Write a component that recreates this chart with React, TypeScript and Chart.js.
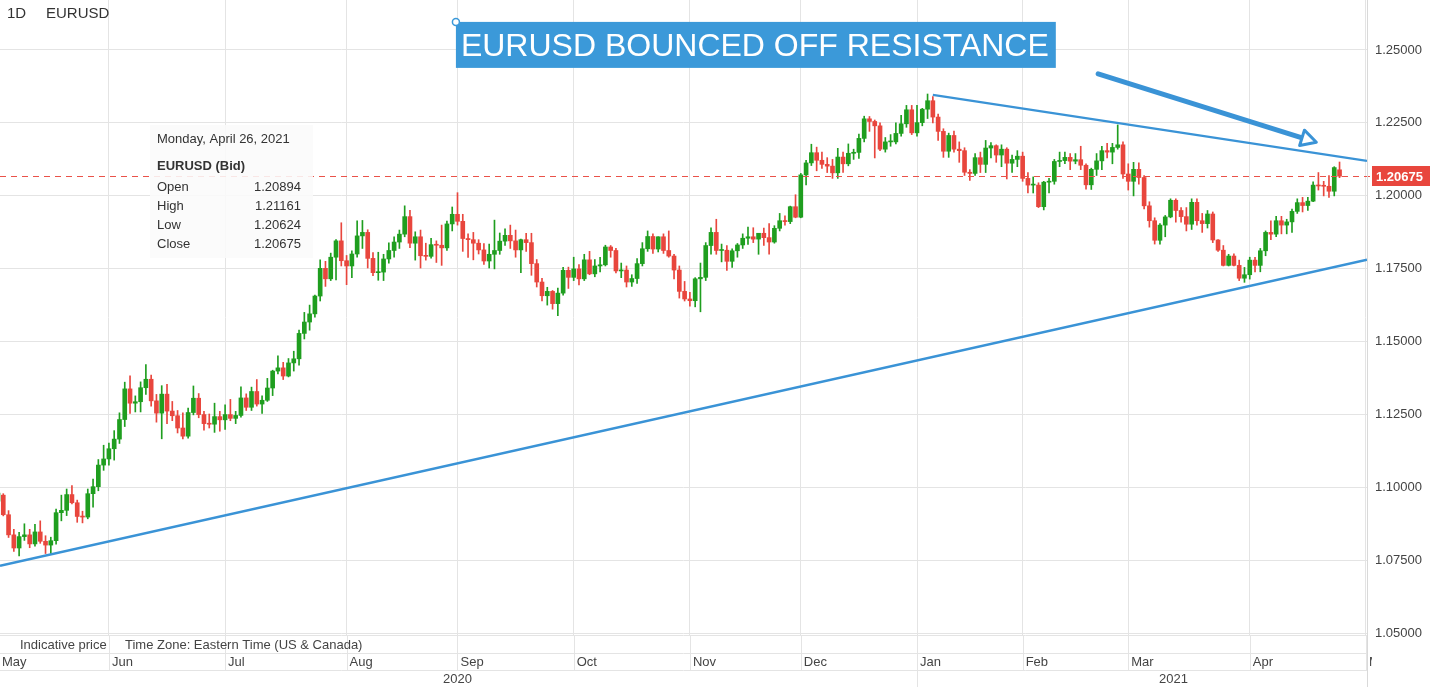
import React, { useEffect, useRef } from 'react';
import { Chart, registerables } from 'chart.js';

Chart.register(...registerables);

const FONT = 'Arial, "Liberation Sans", Helvetica, sans-serif';
const GREEN = '#1f9e1f';
const RED = '#e8463d';
const BLUE = '#3a93d6';
const GRID = '#e4e4e4';

// Month gridlines (trading-day index of the first session of each month)
const monthTickIdx = [0, 21, 43, 66, 87, 109, 131, 152, 174, 194, 214, 237, 259];
const monthTickLabels = ['May', 'Jun', 'Jul', 'Aug', 'Sep', 'Oct', 'Nov', 'Dec', 'Jan', 'Feb', 'Mar', 'Apr', 'May'];
const yearStartIdx = [0, 174];
const yearLabels = ['2020', '2021'];

const yTicks = [1.05, 1.075, 1.1, 1.125, 1.15, 1.175, 1.2, 1.225, 1.25];
const yTickLabels = ['1.05000', '1.07500', '1.10000', '1.12500', '1.15000', '1.17500', '1.20000', '1.22500', '1.25000'];

// Daily EURUSD candles, May 1 2020 .. Apr 26 2021
const opens = [
  // May
  1.0954, 1.0975, 1.0908, 1.0839, 1.0794, 1.0833, 1.0839, 1.0808, 1.0849, 1.0817, 1.0804, 1.0819, 1.0915, 1.0923, 1.0977, 1.0949, 1.0902, 1.0900, 1.0980, 1.1004, 1.1078,
  // Jun
  1.1099, 1.1134, 1.1167, 1.1234, 1.1339, 1.1290, 1.1295, 1.1343, 1.1372, 1.1298, 1.1256, 1.1321, 1.1263, 1.1247, 1.1205, 1.1177, 1.1258, 1.1307, 1.1251, 1.1220, 1.1218, 1.1244,
  // Jul
  1.1233, 1.1251, 1.1238, 1.1248, 1.1308, 1.1276, 1.1330, 1.1287, 1.1300, 1.1342, 1.1400, 1.1411, 1.1383, 1.1428, 1.1442, 1.1529, 1.1568, 1.1596, 1.1657, 1.1752, 1.1716, 1.1790, 1.1846,
  // Aug
  1.1778, 1.1760, 1.1801, 1.1863, 1.1875, 1.1786, 1.1737, 1.1739, 1.1784, 1.1813, 1.1842, 1.1869, 1.1929, 1.1838, 1.1860, 1.1795, 1.1793, 1.1833, 1.1831, 1.1822, 1.1904,
  // Sep
  1.1937, 1.1913, 1.1854, 1.1850, 1.1838, 1.1815, 1.1777, 1.1800, 1.1813, 1.1845, 1.1865, 1.1846, 1.1815, 1.1850, 1.1840, 1.1768, 1.1705, 1.1658, 1.1673, 1.1631, 1.1667, 1.1745,
  // Oct
  1.1721, 1.1750, 1.1716, 1.1781, 1.1733, 1.1760, 1.1764, 1.1825, 1.1813, 1.1743, 1.1746, 1.1705, 1.1717, 1.1768, 1.1819, 1.1861, 1.1818, 1.1860, 1.1813, 1.1794, 1.1746, 1.1673,
  // Nov
  1.1647, 1.1641, 1.1716, 1.1721, 1.1830, 1.1875, 1.1813, 1.1814, 1.1776, 1.1812, 1.1832, 1.1855, 1.1860, 1.1852, 1.1872, 1.1857, 1.1842, 1.1889, 1.1915, 1.1912, 1.1963,
  // Dec
  1.1927, 1.2072, 1.2113, 1.2148, 1.2122, 1.2108, 1.2102, 1.2079, 1.2133, 1.2110, 1.2146, 1.2149, 1.2197, 1.2264, 1.2255, 1.2240, 1.2160, 1.2185, 1.2185, 1.2214, 1.2247, 1.2295,
  // Jan
  1.2216, 1.2251, 1.2297, 1.2326, 1.2270, 1.2221, 1.2153, 1.2207, 1.2160, 1.2155, 1.2081, 1.2077, 1.2131, 1.2108, 1.2164, 1.2172, 1.2140, 1.2160, 1.2112, 1.2125,
  // Feb
  1.2136, 1.2060, 1.2037, 1.2037, 1.1963, 1.2047, 1.2050, 1.2118, 1.2121, 1.2132, 1.2119, 1.2124, 1.2105, 1.2038, 1.2091, 1.2120, 1.2155, 1.2150, 1.2166, 1.2175,
  // Mar
  1.2075, 1.2050, 1.2091, 1.2063, 1.1966, 1.1915, 1.1848, 1.1900, 1.1928, 1.1985, 1.1950, 1.1929, 1.1903, 1.1978, 1.1915, 1.1905, 1.1938, 1.1849, 1.1814, 1.1762, 1.1794, 1.1762, 1.1718,
  // Apr
  1.1730, 1.1780, 1.1762, 1.1812, 1.1875, 1.1869, 1.1915, 1.1900, 1.1911, 1.1947, 1.1977, 1.1967, 1.1982, 1.2037, 1.2034, 1.2033, 1.2016, 1.20894,
];

const highs = [
  1.1019, 1.0980, 1.0922, 1.0858, 1.0848, 1.0877, 1.0858, 1.0875, 1.0887, 1.0836, 1.0831, 1.0927, 1.0975, 1.0996, 1.1008, 1.0958, 1.0920, 1.0996, 1.1030, 1.1097, 1.1146,
  1.1153, 1.1196, 1.1257, 1.1362, 1.1384, 1.1315, 1.1363, 1.1422, 1.1386, 1.1320, 1.1350, 1.1355, 1.1296, 1.1265, 1.1257, 1.1273, 1.1349, 1.1323, 1.1262, 1.1253, 1.1290, 1.1262,
  1.1284, 1.1303, 1.1262, 1.1346, 1.1322, 1.1345, 1.1371, 1.1315, 1.1375, 1.1403, 1.1452, 1.1430, 1.1443, 1.1468, 1.1540, 1.1601, 1.1626, 1.1660, 1.1781, 1.1776, 1.1804, 1.1850, 1.1908,
  1.1796, 1.1812, 1.1915, 1.1916, 1.1884, 1.1806, 1.1807, 1.1800, 1.1839, 1.1860, 1.1883, 1.1966, 1.1951, 1.1877, 1.1883, 1.1838, 1.1855, 1.1846, 1.1900, 1.1914, 1.1962,
  1.2011, 1.1937, 1.1870, 1.1875, 1.1850, 1.1837, 1.1835, 1.1917, 1.1873, 1.1887, 1.1900, 1.1883, 1.1852, 1.1872, 1.1872, 1.1782, 1.1718, 1.1687, 1.1676, 1.1684, 1.1755, 1.1756,
  1.1790, 1.1765, 1.1800, 1.1810, 1.1782, 1.1790, 1.1831, 1.1830, 1.1820, 1.1770, 1.1760, 1.1730, 1.1785, 1.1840, 1.1880, 1.1870, 1.1860, 1.1870, 1.1880, 1.1800, 1.1760, 1.1707,
  1.1670, 1.1720, 1.1770, 1.1840, 1.1891, 1.1920, 1.1835, 1.1830, 1.1819, 1.1837, 1.1870, 1.1893, 1.1891, 1.1870, 1.1890, 1.1905, 1.1898, 1.1940, 1.1932, 1.1965, 1.2004,
  1.2077, 1.2122, 1.2177, 1.2167, 1.2150, 1.2131, 1.2125, 1.2163, 1.2150, 1.2178, 1.2160, 1.2212, 1.2273, 1.2272, 1.2260, 1.2250, 1.2200, 1.2210, 1.2250, 1.2276, 1.2310, 1.2310,
  1.2310, 1.2300, 1.2349, 1.2340, 1.2280, 1.2230, 1.2215, 1.2222, 1.2185, 1.2165, 1.2090, 1.2145, 1.2150, 1.2190, 1.2183, 1.2175, 1.2175, 1.2165, 1.2140, 1.2155,
  1.2150, 1.2080, 1.2065, 1.2045, 1.2050, 1.2060, 1.2125, 1.2150, 1.2150, 1.2145, 1.2145, 1.2170, 1.2110, 1.2095, 1.2145, 1.2170, 1.2180, 1.2180, 1.2243, 1.2185,
  1.2110, 1.2115, 1.2113, 1.2070, 1.1980, 1.1925, 1.1905, 1.1933, 1.1990, 1.1990, 1.1960, 1.1960, 1.1990, 1.1990, 1.1940, 1.1950, 1.1945, 1.1850, 1.1830, 1.1800, 1.1802, 1.1780, 1.1755,
  1.1790, 1.1790, 1.1820, 1.1880, 1.1915, 1.1930, 1.1930, 1.1920, 1.1955, 1.1990, 1.1995, 1.1995, 1.2048, 1.2080, 1.2050, 1.2070, 1.2100, 1.21161,
];

const lows = [
  1.0938, 1.0904, 1.0830, 1.0782, 1.0767, 1.0820, 1.0795, 1.0800, 1.0810, 1.0775, 1.0775, 1.0807, 1.0887, 1.0905, 1.0945, 1.0882, 1.0880, 1.0894, 1.0934, 1.0990, 1.1060,
  1.1078, 1.1095, 1.1152, 1.1210, 1.1255, 1.1260, 1.1260, 1.1320, 1.1280, 1.1225, 1.1168, 1.1220, 1.1230, 1.1188, 1.1168, 1.1170, 1.1250, 1.1240, 1.1198, 1.1205, 1.1190, 1.1194,
  1.1200, 1.1230, 1.1220, 1.1242, 1.1265, 1.1265, 1.1280, 1.1255, 1.1296, 1.1316, 1.1390, 1.1371, 1.1380, 1.1400, 1.1420, 1.1510, 1.1540, 1.1585, 1.1640, 1.1690, 1.1710, 1.1712, 1.1760,
  1.1696, 1.1720, 1.1790, 1.1820, 1.1753, 1.1727, 1.1711, 1.1710, 1.1770, 1.1790, 1.1820, 1.1860, 1.1823, 1.1780, 1.1753, 1.1780, 1.1787, 1.1772, 1.1762, 1.1813, 1.1880,
  1.1900, 1.1810, 1.1789, 1.1781, 1.1801, 1.1765, 1.1753, 1.1750, 1.1800, 1.1830, 1.1820, 1.1790, 1.1737, 1.1810, 1.1728, 1.1688, 1.1640, 1.1626, 1.1612, 1.1590, 1.1660, 1.1683,
  1.1710, 1.1695, 1.1710, 1.1730, 1.1723, 1.1740, 1.1760, 1.1790, 1.1736, 1.1720, 1.1688, 1.1690, 1.1700, 1.1760, 1.1810, 1.1803, 1.1808, 1.1803, 1.1790, 1.1716, 1.1650, 1.1640,
  1.1622, 1.1620, 1.1603, 1.1710, 1.1800, 1.1800, 1.1774, 1.1745, 1.1755, 1.1790, 1.1820, 1.1834, 1.1840, 1.1800, 1.1830, 1.1800, 1.1838, 1.1880, 1.1900, 1.1905, 1.1925,
  1.1925, 1.2038, 1.2104, 1.2086, 1.2094, 1.2080, 1.2060, 1.2060, 1.2080, 1.2103, 1.2125, 1.2128, 1.2185, 1.2221, 1.2130, 1.2155, 1.2150, 1.2170, 1.2178, 1.2205, 1.2235, 1.2210,
  1.2205, 1.2240, 1.2265, 1.2250, 1.2190, 1.2132, 1.2132, 1.2150, 1.2115, 1.2070, 1.2053, 1.2070, 1.2080, 1.2080, 1.2130, 1.2115, 1.2100, 1.2058, 1.2080, 1.2100,
  1.2050, 1.2010, 1.2010, 1.1960, 1.1952, 1.2010, 1.2040, 1.2100, 1.2110, 1.2090, 1.2110, 1.2090, 1.2023, 1.2022, 1.2070, 1.2090, 1.2130, 1.2110, 1.2160, 1.2060,
  1.2020, 1.2000, 1.2040, 1.1955, 1.1893, 1.1835, 1.1835, 1.1860, 1.1925, 1.1910, 1.1910, 1.1880, 1.1885, 1.1900, 1.1875, 1.1890, 1.1840, 1.1810, 1.1760, 1.1760, 1.1760, 1.1710, 1.1704,
  1.1715, 1.1740, 1.1740, 1.1795, 1.1850, 1.1860, 1.1870, 1.1870, 1.1875, 1.1940, 1.1945, 1.1950, 1.1980, 1.2020, 1.2000, 1.1995, 1.2000, 1.20624,
];

const closes = [
  1.0982, 1.0908, 1.0839, 1.0794, 1.0833, 1.0839, 1.0808, 1.0849, 1.0817, 1.0804, 1.0819, 1.0915, 1.0923, 1.0977, 1.0949, 1.0902, 1.0900, 1.0980, 1.1004, 1.1078, 1.1099,
  1.1134, 1.1167, 1.1234, 1.1339, 1.1290, 1.1295, 1.1343, 1.1372, 1.1298, 1.1256, 1.1321, 1.1263, 1.1247, 1.1205, 1.1177, 1.1258, 1.1307, 1.1251, 1.1220, 1.1218, 1.1244, 1.1233,
  1.1251, 1.1238, 1.1248, 1.1308, 1.1276, 1.1330, 1.1287, 1.1300, 1.1342, 1.1400, 1.1411, 1.1383, 1.1428, 1.1442, 1.1529, 1.1568, 1.1596, 1.1657, 1.1752, 1.1716, 1.1790, 1.1846, 1.1778,
  1.1760, 1.1801, 1.1863, 1.1875, 1.1786, 1.1737, 1.1739, 1.1784, 1.1813, 1.1842, 1.1869, 1.1929, 1.1838, 1.1860, 1.1795, 1.1793, 1.1833, 1.1831, 1.1822, 1.1904, 1.1937,
  1.1913, 1.1854, 1.1850, 1.1838, 1.1815, 1.1777, 1.1800, 1.1813, 1.1845, 1.1865, 1.1846, 1.1815, 1.1850, 1.1840, 1.1768, 1.1705, 1.1658, 1.1673, 1.1631, 1.1667, 1.1745, 1.1721,
  1.1750, 1.1716, 1.1781, 1.1733, 1.1760, 1.1764, 1.1825, 1.1813, 1.1743, 1.1746, 1.1705, 1.1717, 1.1768, 1.1819, 1.1861, 1.1818, 1.1860, 1.1813, 1.1794, 1.1746, 1.1673, 1.1647,
  1.1641, 1.1716, 1.1721, 1.1830, 1.1875, 1.1813, 1.1814, 1.1776, 1.1812, 1.1832, 1.1855, 1.1860, 1.1852, 1.1872, 1.1857, 1.1842, 1.1889, 1.1915, 1.1912, 1.1963, 1.1927,
  1.2072, 1.2113, 1.2148, 1.2122, 1.2108, 1.2102, 1.2079, 1.2133, 1.2110, 1.2146, 1.2149, 1.2197, 1.2264, 1.2255, 1.2240, 1.2160, 1.2185, 1.2185, 1.2214, 1.2247, 1.2295, 1.2216,
  1.2251, 1.2297, 1.2326, 1.2270, 1.2221, 1.2153, 1.2207, 1.2160, 1.2155, 1.2081, 1.2077, 1.2131, 1.2108, 1.2164, 1.2172, 1.2140, 1.2160, 1.2112, 1.2125, 1.2136,
  1.2060, 1.2037, 1.2037, 1.1963, 1.2047, 1.2050, 1.2118, 1.2121, 1.2132, 1.2119, 1.2124, 1.2105, 1.2038, 1.2091, 1.2120, 1.2155, 1.2150, 1.2166, 1.2175, 1.2075,
  1.2050, 1.2091, 1.2063, 1.1966, 1.1915, 1.1848, 1.1900, 1.1928, 1.1985, 1.1950, 1.1929, 1.1903, 1.1978, 1.1915, 1.1905, 1.1938, 1.1849, 1.1814, 1.1762, 1.1794, 1.1762, 1.1718, 1.1730,
  1.1780, 1.1762, 1.1812, 1.1875, 1.1869, 1.1915, 1.1900, 1.1911, 1.1947, 1.1977, 1.1967, 1.1982, 1.2037, 1.2034, 1.2033, 1.2016, 1.2097, 1.20675,
];

// Drawn trend lines and arrow (x = trading-day index, y = price)
const supportLine = [{ x: 0.38, y: 1.0733 }, { x: 259.2, y: 1.1781 }];
const resistanceLine = [{ x: 177.0, y: 1.2346 }, { x: 259.2, y: 1.2120 }];
const arrowLine = [{ x: 208.3, y: 1.2418 }, { x: 246.9, y: 1.2199 }];
const annotationAnchor = { x: 86.7, y: 1.2596 };
const annotationText = 'EURUSD BOUNCED OFF RESISTANCE';

const tooltipDate = 'Monday, April 26, 2021';
const tooltipTitle = 'EURUSD (Bid)';
const tooltipRows = ['Open', 'High', 'Low', 'Close'];
const tooltipValues = ['1.20894', '1.21161', '1.20624', '1.20675'];

const overlayPlugin = {
  id: 'overlay',
  afterDatasetsDraw(chart: any) {
    const { ctx, chartArea: ca, scales } = chart;
    const xs = scales.x;
    const ys = scales.y;
    // last price dashed line
    const last = closes[closes.length - 1];
    const py = Math.round(ys.getPixelForValue(last)) + 0.5;
    ctx.save();
    ctx.strokeStyle = '#ea5249';
    ctx.lineWidth = 1;
    ctx.setLineDash([6, 5]);
    ctx.beginPath();
    ctx.moveTo(ca.left, py);
    ctx.lineTo(ca.right + 5, py);
    ctx.stroke();
    ctx.restore();

    // arrowhead
    const ax0 = xs.getPixelForValue(arrowLine[0].x);
    const ay0 = ys.getPixelForValue(arrowLine[0].y);
    const ax1 = xs.getPixelForValue(arrowLine[1].x);
    const ay1 = ys.getPixelForValue(arrowLine[1].y);
    const dx = ax1 - ax0;
    const dy = ay1 - ay0;
    const len = Math.hypot(dx, dy);
    const ux = dx / len;
    const uy = dy / len;
    const nx = -uy;
    const ny = ux;
    ctx.save();
    ctx.beginPath();
    ctx.moveTo(ax1 + ux * 15, ay1 + uy * 15);
    ctx.lineTo(ax1 + nx * 8, ay1 + ny * 8);
    ctx.lineTo(ax1 - nx * 8, ay1 - ny * 8);
    ctx.closePath();
    ctx.fillStyle = '#ffffff';
    ctx.fill();
    ctx.lineWidth = 3;
    ctx.lineJoin = 'round';
    ctx.strokeStyle = BLUE;
    ctx.stroke();
    ctx.restore();
  },
  afterDraw(chart: any) {
    const { ctx, chartArea: ca, scales } = chart;
    const xs = scales.x;
    const ys = scales.y;
    const W = chart.width;
    const H = chart.height;
    const r0 = ca.bottom;
    const r1 = r0 + 18;
    const r2 = r1 + 17;

    ctx.save();
    ctx.strokeStyle = GRID;
    ctx.lineWidth = 1;
    const hline = (yy: number) => {
      ctx.beginPath();
      ctx.moveTo(0, Math.round(yy) + 0.5);
      ctx.lineTo(ca.right, Math.round(yy) + 0.5);
      ctx.stroke();
    };
    hline(r0);
    hline(r1);
    hline(r2);
    monthTickIdx.forEach((i) => {
      const px = Math.round(xs.getPixelForValue(i)) + 0.5;
      if (px < 0 || px > ca.right + 1) return;
      ctx.beginPath();
      ctx.moveTo(px, r0);
      ctx.lineTo(px, r2);
      ctx.stroke();
    });
    yearStartIdx.forEach((i) => {
      const px = Math.round(xs.getPixelForValue(i)) + 0.5;
      if (px < 0) return;
      ctx.beginPath();
      ctx.moveTo(px, r2);
      ctx.lineTo(px, H);
      ctx.stroke();
    });
    ctx.strokeStyle = '#d9d9d9';
    ctx.beginPath();
    ctx.moveTo(Math.round(ca.right) + 0.5, 0);
    ctx.lineTo(Math.round(ca.right) + 0.5, H);
    ctx.stroke();

    // bottom texts
    ctx.fillStyle = '#444';
    ctx.font = `13px ${FONT}`;
    ctx.textBaseline = 'middle';
    ctx.textAlign = 'left';
    ctx.fillText('Indicative price', 20, (r0 + r1) / 2 + 1);
    ctx.fillText('Time Zone: Eastern Time (US & Canada)', 125, (r0 + r1) / 2 + 1);

    ctx.save();
    ctx.beginPath();
    ctx.rect(0, r1, ca.right + 5, r2 - r1);
    ctx.clip();
    monthTickIdx.forEach((i, k) => {
      const px = xs.getPixelForValue(i);
      ctx.fillText(monthTickLabels[k], Math.max(2, px + 3), (r1 + r2) / 2 + 1);
    });
    ctx.restore();

    ctx.textAlign = 'center';
    yearStartIdx.forEach((i, k) => {
      const a = xs.getPixelForValue(i);
      const b = k + 1 < yearStartIdx.length ? xs.getPixelForValue(yearStartIdx[k + 1]) : W;
      ctx.fillText(yearLabels[k], (a + b) / 2, (r2 + H) / 2 + 1);
    });

    // title
    ctx.textAlign = 'left';
    ctx.fillStyle = '#333';
    ctx.font = `15px ${FONT}`;
    ctx.fillText('1D', 7, 14);
    ctx.fillText('EURUSD', 46, 14);

    // last price label
    const last = closes[closes.length - 1];
    const py = ys.getPixelForValue(last);
    ctx.fillStyle = RED;
    ctx.fillRect(ca.right + 5, Math.round(py) - 10, W - ca.right - 5, 20);
    ctx.fillStyle = '#ffffff';
    ctx.font = `bold 13px ${FONT}`;
    ctx.fillText(last.toFixed(5), ca.right + 9, py + 1);

    // annotation box
    const bx = xs.getPixelForValue(annotationAnchor.x);
    const by = ys.getPixelForValue(annotationAnchor.y);
    ctx.font = `32px ${FONT}`;
    const tw = ctx.measureText(annotationText).width;
    ctx.fillStyle = '#3b99d9';
    ctx.fillRect(bx, by, tw + 12, 46);
    ctx.fillStyle = '#ffffff';
    ctx.fillText(annotationText, bx + 5, by + 25);
    ctx.beginPath();
    ctx.arc(bx, by, 3.5, 0, Math.PI * 2);
    ctx.fillStyle = '#ffffff';
    ctx.fill();
    ctx.lineWidth = 1.5;
    ctx.strokeStyle = '#3b99d9';
    ctx.stroke();

    // static tooltip
    ctx.fillStyle = 'rgba(250,250,250,0.88)';
    ctx.fillRect(150, 125, 163, 133);
    ctx.fillStyle = '#333';
    ctx.font = `13px ${FONT}`;
    ctx.fillText(tooltipDate, 157, 139);
    ctx.font = `bold 13px ${FONT}`;
    ctx.fillText(tooltipTitle, 157, 166);
    ctx.font = `13px ${FONT}`;
    tooltipRows.forEach((label, k) => {
      const yy = 187 + k * 19;
      ctx.textAlign = 'left';
      ctx.fillText(label, 157, yy);
      ctx.textAlign = 'right';
      ctx.fillText(tooltipValues[k], 301, yy);
    });
    ctx.restore();
  },
};

export default function App() {
  const ref = useRef<HTMLCanvasElement | null>(null);

  useEffect(() => {
    document.body.style.margin = '0';
    const canvas = ref.current;
    if (!canvas) return;
    const idx = closes.map((_, i) => i);
    const colors = idx.map((i) => (closes[i] >= opens[i] ? GREEN : RED));

    const chart = new Chart(canvas, {
      type: 'bar',
      data: {
        datasets: [
          {
            type: 'line',
            data: supportLine,
            borderColor: BLUE,
            borderWidth: 2.5,
            pointRadius: 0,
            fill: false,
            order: 1,
          } as any,
          {
            type: 'line',
            data: resistanceLine,
            borderColor: BLUE,
            borderWidth: 2.2,
            pointRadius: 0,
            fill: false,
            order: 1,
          } as any,
          {
            type: 'line',
            data: arrowLine,
            borderColor: BLUE,
            borderWidth: 5,
            borderCapStyle: 'round',
            pointRadius: 0,
            fill: false,
            order: 0,
          } as any,
          {
            type: 'bar',
            data: idx.map((i) => ({ x: i, y: [opens[i], closes[i]] })),
            backgroundColor: colors,
            barThickness: 4,
            minBarLength: 1,
            grouped: false,
            order: 2,
          } as any,
          {
            type: 'bar',
            data: idx.map((i) => ({ x: i, y: [lows[i], highs[i]] })),
            backgroundColor: colors,
            barThickness: 1,
            grouped: false,
            order: 3,
          } as any,
        ],
      },
      options: {
        responsive: false,
        animation: false,
        devicePixelRatio: 1,
        layout: { padding: { left: 0, right: 0, top: 0, bottom: 52 } },
        plugins: { legend: { display: false }, tooltip: { enabled: false } },
        events: [],
        scales: {
          x: {
            type: 'linear',
            min: 0.38,
            max: 259.2,
            offset: false,
            grid: { color: GRID, drawTicks: false, offset: false },
            border: { display: false },
            ticks: { display: false },
            afterBuildTicks: (s: any) => {
              s.ticks = monthTickIdx.map((v) => ({ value: v }));
            },
            afterFit: (s: any) => {
              s.height = 0;
              s.paddingLeft = 0;
              s.paddingRight = 0;
            },
          },
          y: {
            type: 'linear',
            position: 'right',
            min: 1.0496,
            max: 1.2671,
            grid: { color: GRID, drawTicks: false },
            border: { display: true, color: '#d9d9d9' },
            ticks: {
              padding: 8,
              color: '#444',
              font: { family: FONT, size: 13 },
              callback: (_v: any, i: number) => yTickLabels[i],
            },
            afterBuildTicks: (s: any) => {
              s.ticks = yTicks.map((v) => ({ value: v }));
            },
            afterFit: (s: any) => {
              s.width = 63;
              s.paddingTop = 0;
              s.paddingBottom = 0;
            },
          },
        },
      } as any,
      plugins: [overlayPlugin],
    });
    return () => chart.destroy();
  }, []);

  return (
    <div style={{ width: 1430, height: 687, background: '#fff' }}>
      <canvas ref={ref} width={1430} height={687} style={{ display: 'block' }} />
    </div>
  );
}
